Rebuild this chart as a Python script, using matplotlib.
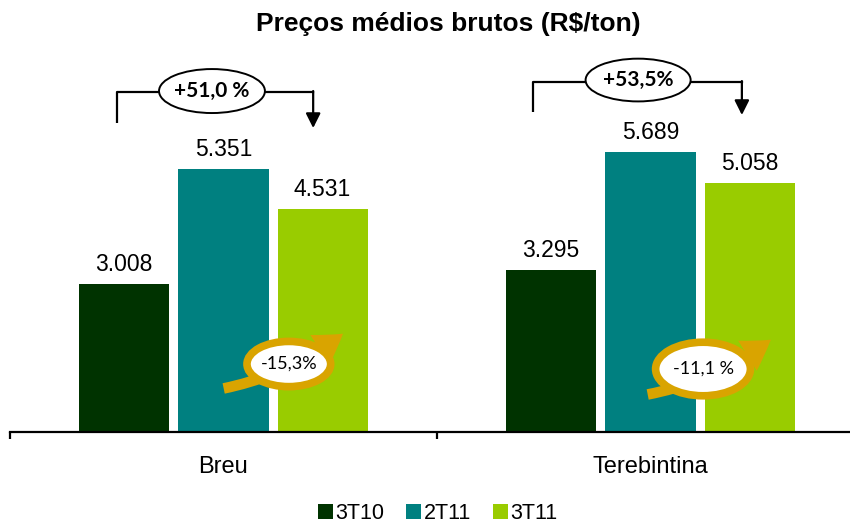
import matplotlib.pyplot as plt
import numpy as np
from matplotlib.patches import Ellipse, FancyArrowPatch

# データ
categories = ['Breu', 'Terebintina']
series = ['3T10', '2T11', '3T11']
values = {
    '3T10': [3008, 3295],
    '2T11': [5351, 5689],
    '3T11': [4531, 5058],
}
value_labels = {
    '3T10': ['3.008', '3.295'],
    '2T11': ['5.351', '5.689'],
    '3T11': ['4.531', '5.058'],
}
change_year = ['+51,0 %', '+53,5%']
change_quarter = ['-15,3%', '-11,1 %']

colors = ['#003300', '#008080', '#99CC00']
gold = '#D9A400'

plt.rcParams['font.family'] = ['Liberation Sans', 'DejaVu Sans']

fig = plt.figure(figsize=(8.5, 5.23), dpi=100)
ax = fig.add_axes([10 / 850, 91 / 523, 854 / 850, 344 / 523])

x = np.arange(len(categories))
offsets = [-0.233, 0.0, 0.232]
width = 0.211

for s, off, c in zip(series, offsets, colors):
    bars = ax.bar(x + off, values[s], width, color=c, label=s)
    for b, lab in zip(bars, value_labels[s]):
        ax.annotate(lab, (b.get_x() + b.get_width() / 2, b.get_height()),
                    xytext=(0, 6), textcoords='offset points',
                    ha='center', va='bottom', fontsize=16.5)

ax.set_xlim(-0.5, 1.5)
ax.set_ylim(0, 7000)
for sp in ['top', 'right', 'left']:
    ax.spines[sp].set_visible(False)
ax.spines['bottom'].set_linewidth(1.6)
ax.set_yticks([])
ax.set_xticks([-0.5, 0.5, 1.5])
ax.set_xticklabels([])
ax.tick_params(axis='x', direction='out', length=5, width=1.6)

# カテゴリラベル
for xi, cat in zip(x, categories):
    ax.annotate(cat, (xi, 0), xytext=(0, -25), textcoords='offset points',
                ha='center', va='center', fontsize=17)

fig.text(0.527, 0.955, 'Preços médios brutos (R$/ton)', ha='center', va='center',
         fontsize=19, fontweight='bold')

# 3T10 -> 3T11
brackets = [
    # left x, bottom y, line y, ellipse x, ellipse y, ell w, ell h, arrow x, tip y
    (-0.249, 6287, 6918, -0.027, 6938, 0.248, 895, 0.210, 6185),
    (0.725, 6511, 7121, 0.971, 7162, 0.246, 870, 1.214, 6450),
]
for (lx, by, ly, ex, ey, ew, eh, axx, ty), txt in zip(brackets, change_year):
    ax.plot([lx, lx, ex - ew / 2], [by, ly, ly], color='black', lw=1.6,
            clip_on=False, solid_capstyle='butt')
    ax.plot([ex + ew / 2, axx], [ly, ly], color='black', lw=1.6, clip_on=False)
    ax.annotate('', xy=(axx, ty), xytext=(axx, ly + 20),
                arrowprops=dict(arrowstyle='-|>', lw=1.6, color='black',
                                mutation_scale=22, shrinkA=0, shrinkB=0),
                annotation_clip=False)
    ax.add_patch(Ellipse((ex, ey), ew, eh, facecolor='white', edgecolor='black',
                         lw=1.4, clip_on=False, zorder=5))
    ax.text(ex, ey, txt, ha='center', va='center', fontsize=15, fontweight='bold',
            family=['Lato', 'DejaVu Sans'], zorder=6, clip_on=False)

# 2T11 -> 3T11
callouts = [
    # tail x, tail y, tip x, tip y, ellipse x, ellipse y, w, h
    (-0.006, 875, 0.285, 2035, 0.153, 1383, 0.196, 920),
    (0.987, 753, 1.287, 1912, 1.123, 1282, 0.222, 1090),
]
for (tx, tyy, hx, hy, ex, ey, ew, eh), txt in zip(callouts, change_quarter):
    arr = FancyArrowPatch((tx, tyy), (hx, hy), connectionstyle='arc3,rad=0.12',
                          arrowstyle='simple,tail_width=0.45,head_width=1.5,head_length=1.2',
                          mutation_scale=17, color=gold, lw=0, zorder=4)
    ax.add_patch(arr)
    ax.add_patch(Ellipse((ex, ey), ew, eh, facecolor='white', edgecolor=gold,
                         lw=5.5, zorder=5))
    ax.text(ex, ey, txt, ha='center', va='center', fontsize=13,
            family=['Lato', 'DejaVu Sans'], zorder=6)

ax.legend(loc='center', bbox_to_anchor=(0.515, 0.018), bbox_transform=fig.transFigure,
          ncol=3, frameon=False, fontsize=15.5, handlelength=0.7, handleheight=0.7,
          handletextpad=0.12, columnspacing=1.0, borderaxespad=0)

fig.savefig('out.png', dpi=100)
